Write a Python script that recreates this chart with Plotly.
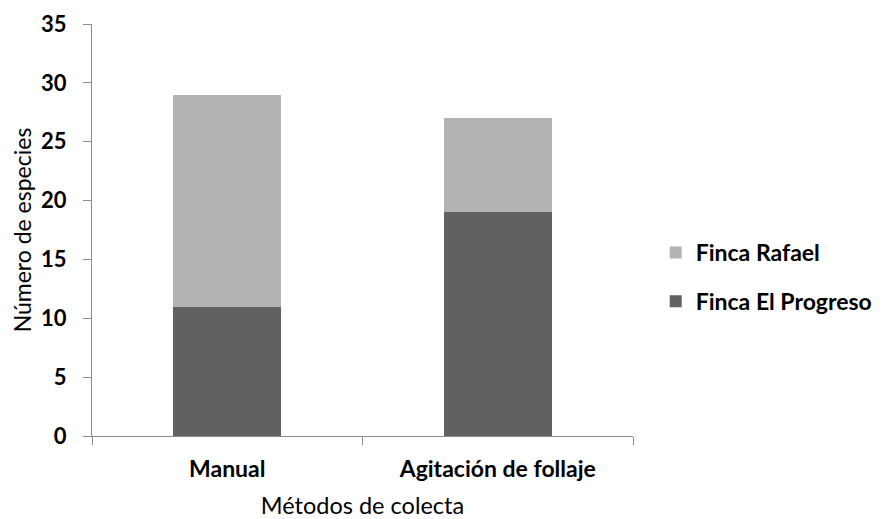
import plotly.graph_objects as go

categories = ["Manual", "Agitación de follaje"]
progreso = [11, 19]
rafael = [18, 8]
series_names = ["Finca El Progreso", "Finca Rafael"]
y_ticks = [0, 5, 10, 15, 20, 25, 30, 35]

FONT = "Lato"

fig = go.Figure()
fig.add_trace(go.Bar(x=categories, y=progreso, name=series_names[0],
                     legendgroup="progreso", legendrank=2,
                     marker=dict(color="#616161", line=dict(width=0))))
fig.add_trace(go.Bar(x=categories, y=rafael, name=series_names[1],
                     legendgroup="rafael", legendrank=1,
                     marker=dict(color="#b3b3b3", line=dict(width=0))))

fig.update_layout(
    barmode="stack",
    bargap=0.6,
    width=882, height=519,
    margin=dict(l=84, r=255, t=16, b=91),
    paper_bgcolor="white", plot_bgcolor="white",
    font=dict(family=FONT, color="black"),
    showlegend=True,
    legend=dict(x=1.042, y=0.386, xanchor="left", yanchor="middle",
                traceorder="grouped", tracegroupgap=16,
                font=dict(family=FONT, size=23, color="black", weight="bold"),
                itemwidth=30),
    xaxis=dict(
        showline=True, linecolor="#8c8c8c", linewidth=1,
        ticks="outside", ticklen=8, tickcolor="#8c8c8c", tickson="boundaries",
        tickfont=dict(family=FONT, size=23, color="black", weight="bold"),
        ticklabelstandoff=12,
        title=dict(text="Métodos de colecta", font=dict(family=FONT, size=23.5, color="black"), standoff=16),
        showgrid=False, automargin=False,
    ),
    yaxis=dict(
        range=[0, 35], tickvals=y_ticks,
        showline=True, linecolor="#8c8c8c", linewidth=1,
        ticks="outside", ticklen=8, tickcolor="#8c8c8c",
        tickfont=dict(family=FONT, size=22, color="black", weight="bold"),
        ticklabelstandoff=12,
        title=dict(text="Número de especies", font=dict(family=FONT, size=23, color="black"), standoff=10),
        showgrid=False, zeroline=False, automargin=False,
    ),
)

fig.write_html("out.html")
